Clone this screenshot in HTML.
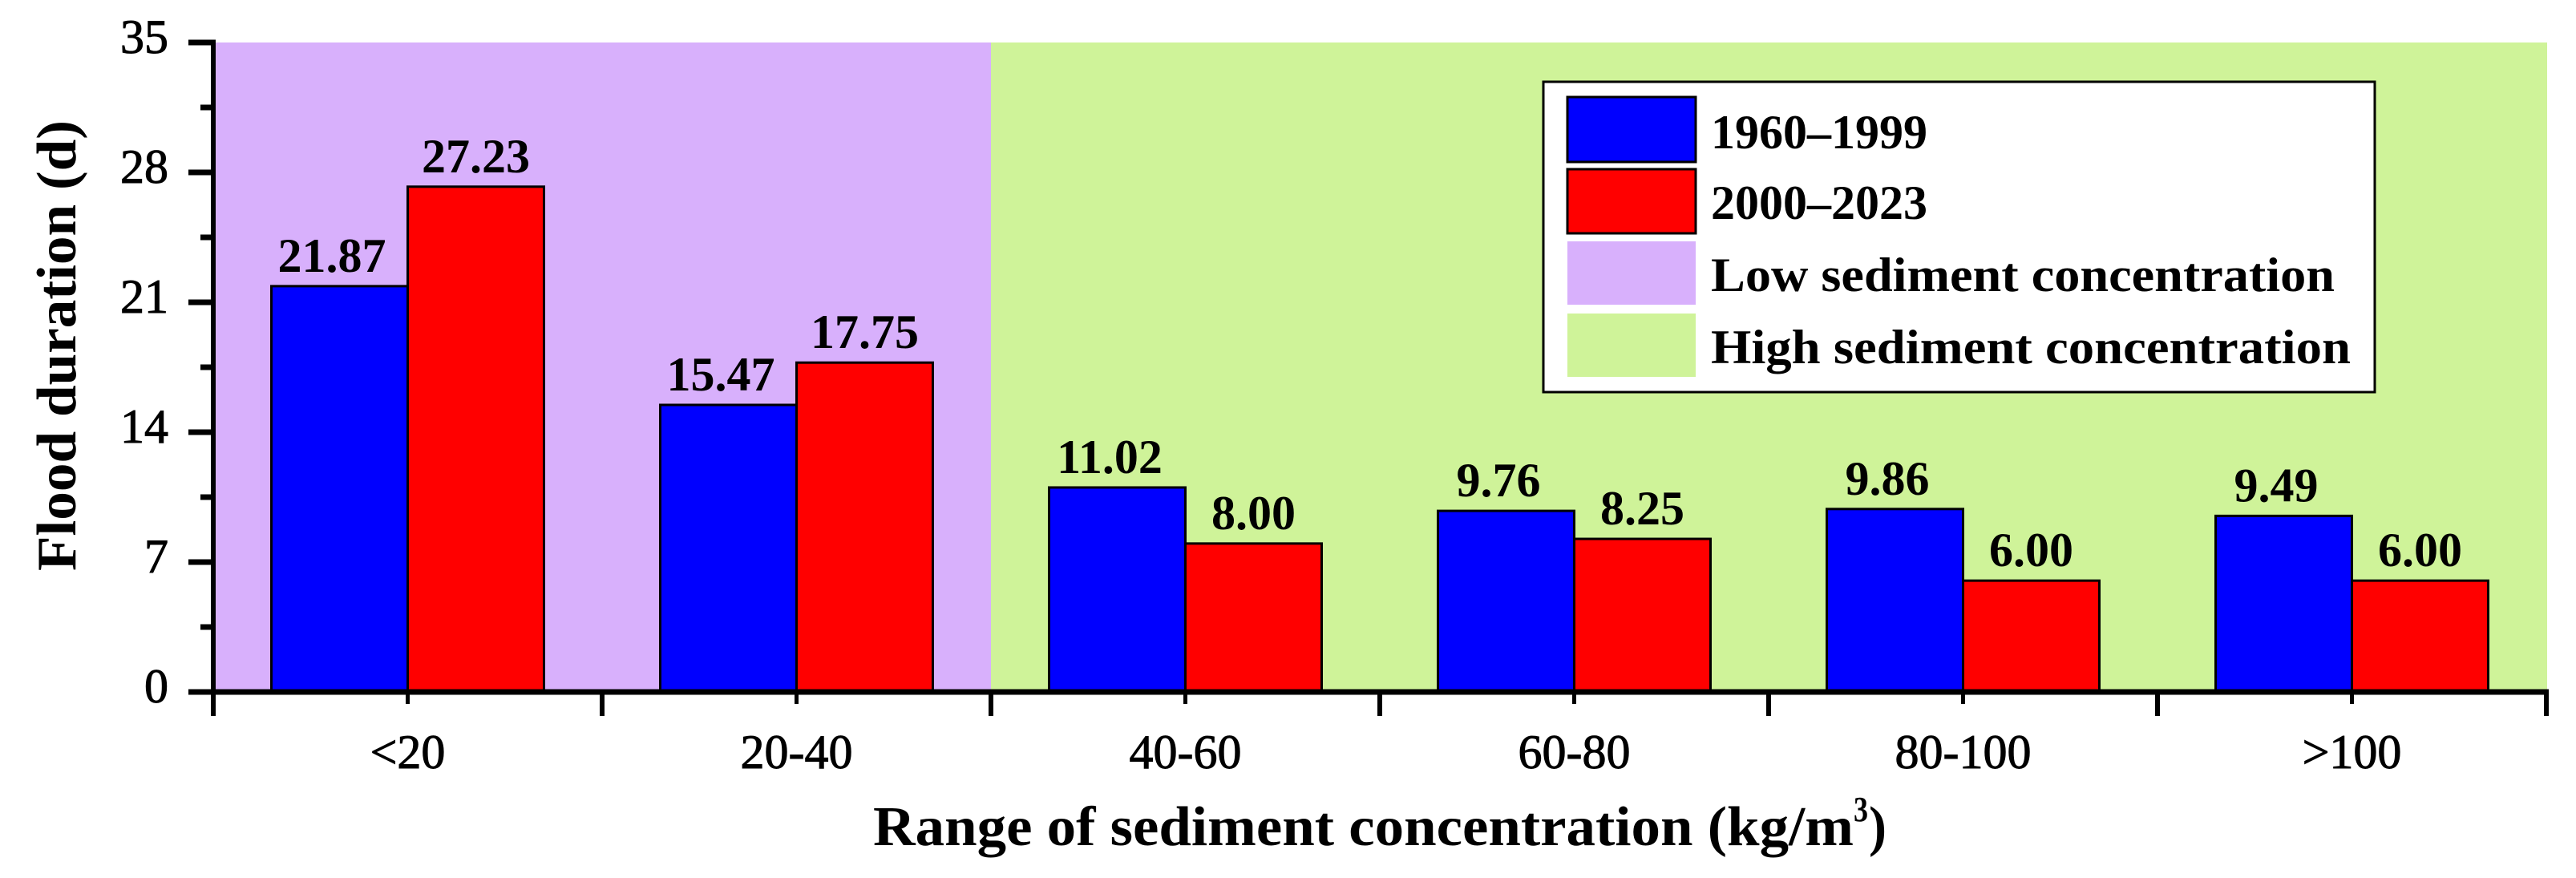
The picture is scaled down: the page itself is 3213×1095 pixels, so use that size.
<!DOCTYPE html>
<html lang="en">
<head>
<meta charset="utf-8">
<title>Flood duration by range of sediment concentration</title>
<style>
  html, body { margin: 0; padding: 0; background: #fff; }
  svg { display: block; }
  text { font-family: "Liberation Serif", "DejaVu Serif", serif; fill: #000; }
  .bold { font-weight: bold; font-size: 60px; }
  .tick { font-size: 60px; stroke: #000; stroke-width: 1px; }
  .title { font-weight: bold; font-size: 70px; }
</style>
</head>
<body>
<svg id="chart" xmlns="http://www.w3.org/2000/svg" width="3213" height="1095" viewBox="0 0 3213 1095">
  <rect x="0" y="0" width="3213" height="1095" fill="#ffffff"/>
  <g id="bands"></g>
  <g id="bars"></g>
  <g id="axes"></g>
  <g id="labels"></g>

  <text class="title" transform="translate(94,712) rotate(-90)" textLength="562" lengthAdjust="spacingAndGlyphs">Flood duration (d)</text>

  <g>
    <text class="title" x="1089" y="1054" textLength="1223" lengthAdjust="spacingAndGlyphs">Range of sediment concentration (kg/m</text>
    <text class="title" style="font-size:44px" x="2312" y="1024" textLength="18" lengthAdjust="spacingAndGlyphs">3</text>
    <text class="title" x="2331" y="1054" textLength="22" lengthAdjust="spacingAndGlyphs">)</text>
  </g>

  <g>
    <rect x="1925" y="102" width="1037" height="387" fill="#ffffff" stroke="#000000" stroke-width="3"/>
    <rect x="1955" y="121" width="160" height="81" fill="#0000ff" stroke="#000000" stroke-width="3"/>
    <text class="bold" x="2134" y="185" textLength="270" lengthAdjust="spacingAndGlyphs">1960–1999</text>
    <rect x="1955" y="211" width="160" height="80" fill="#ff0000" stroke="#000000" stroke-width="3"/>
    <text class="bold" x="2134" y="273" textLength="270" lengthAdjust="spacingAndGlyphs">2000–2023</text>
    <rect x="1955" y="301" width="160" height="79" fill="#d8b0fc"/>
    <text class="bold" x="2134" y="363" textLength="778" lengthAdjust="spacingAndGlyphs">Low sediment concentration</text>
    <rect x="1955" y="391" width="160" height="79" fill="#cff399"/>
    <text class="bold" x="2134" y="453" textLength="798" lengthAdjust="spacingAndGlyphs">High sediment concentration</text>
  </g>
</svg>

<script>
const categories = ["<20", "20-40", "40-60", "60-80", "80-100", ">100"];
const values1960to1999 = [21.87, 15.47, 11.02, 9.76, 9.86, 9.49];
const values2000to2023 = [27.23, 17.75, 8.00, 8.25, 6.00, 6.00];
const yMajorTicks = [0, 7, 14, 21, 28, 35];
const yMinorTicks = [3.5, 10.5, 17.5, 24.5, 31.5];

const SVG_NS = "http://www.w3.org/2000/svg";
const plotLeft = 266, plotRight = 3176, plotTop = 53, plotBottom = 863;
const yMax = 35;
const barWidth = 170;
const blueLabelShift = -9.5;

function yScale(v) { return plotBottom - (v / yMax) * (plotBottom - plotTop); }
function xBand() { return (plotRight - plotLeft) / categories.length; }
function xEdge(i) { return plotLeft + xBand() * i; }
function xCenter(i) { return plotLeft + xBand() * (i + 0.5); }

function make(tag, attrs, parent, txt) {
  const el = document.createElementNS(SVG_NS, tag);
  for (const k in attrs) el.setAttribute(k, attrs[k]);
  if (txt !== undefined) el.textContent = txt;
  parent.appendChild(el);
  return el;
}

const bandsG = document.getElementById("bands");
const barsG = document.getElementById("bars");
const axesG = document.getElementById("axes");
const labelsG = document.getElementById("labels");

// background bands: first two categories are low, the others high
let lowBand = make("rect", { x: plotLeft, y: plotTop, width: xEdge(2) - plotLeft, height: plotBottom - plotTop, fill: "#d8b0fc" }, bandsG);


let highBand = make("rect", { x: xEdge(2), y: plotTop, width: plotRight + 1 - xEdge(2), height: plotBottom - plotTop, fill: "#cff399" }, bandsG);



// bars and printed values
categories.forEach(function (cat, i) {
  const c = xCenter(i);
  const yA = yScale(values1960to1999[i]);
  const yB = yScale(values2000to2023[i]);

  const barA = make("rect", { x: c - barWidth, y: yA, width: barWidth, height: plotBottom - yA, fill: "#0000ff", stroke: "#000", "stroke-width": 3 }, barsG);
  
  

  const barB = make("rect", { x: c, y: yB, width: barWidth, height: plotBottom - yB, fill: "#ff0000", stroke: "#000", "stroke-width": 3 }, barsG);
  
  

  const labelA = make("text", { x: c - barWidth / 2 + blueLabelShift, y: yA - 18, "text-anchor": "middle", class: "bold" }, labelsG, values1960to1999[i].toFixed(2));
  
  

  const labelB = make("text", { x: c + barWidth / 2, y: yB - 18, "text-anchor": "middle", class: "bold" }, labelsG, values2000to2023[i].toFixed(2));
  
  

  const catLabel = make("text", { x: c, y: 958, "text-anchor": "middle", class: "tick" }, axesG, cat);
  
  

  const minor = make("line", { x1: c, x2: c, y1: plotBottom, y2: 878, stroke: "#000", "stroke-width": 5 }, axesG);
  
  
});

// x major ticks at band edges
for (let i = 0; i <= categories.length; i++) {
  const t = make("line", { x1: xEdge(i), x2: xEdge(i), y1: plotBottom, y2: 893, stroke: "#000", "stroke-width": 6 }, axesG);
  
  
}

// y ticks
yMajorTicks.forEach(function (v) {
  const t = make("line", { x1: 235, x2: plotLeft, y1: yScale(v), y2: yScale(v), stroke: "#000", "stroke-width": 7 }, axesG);
  
  
  const l = make("text", { x: 210, y: yScale(v) + 13, "text-anchor": "end", class: "tick" }, axesG, String(v));
  
  
});
yMinorTicks.forEach(function (v) {
  const t = make("line", { x1: 250, x2: plotLeft, y1: yScale(v), y2: yScale(v), stroke: "#000", "stroke-width": 7 }, axesG);
  
  
});

// axis lines
const yAxisLine = make("line", { x1: plotLeft, x2: plotLeft, y1: plotTop - 3.5, y2: plotBottom + 3.5, stroke: "#000", "stroke-width": 6 }, axesG);


const xAxisLine = make("line", { x1: 235, x2: plotRight + 3, y1: plotBottom, y2: plotBottom, stroke: "#000", "stroke-width": 7 }, axesG);


</script>
</body>
</html>
